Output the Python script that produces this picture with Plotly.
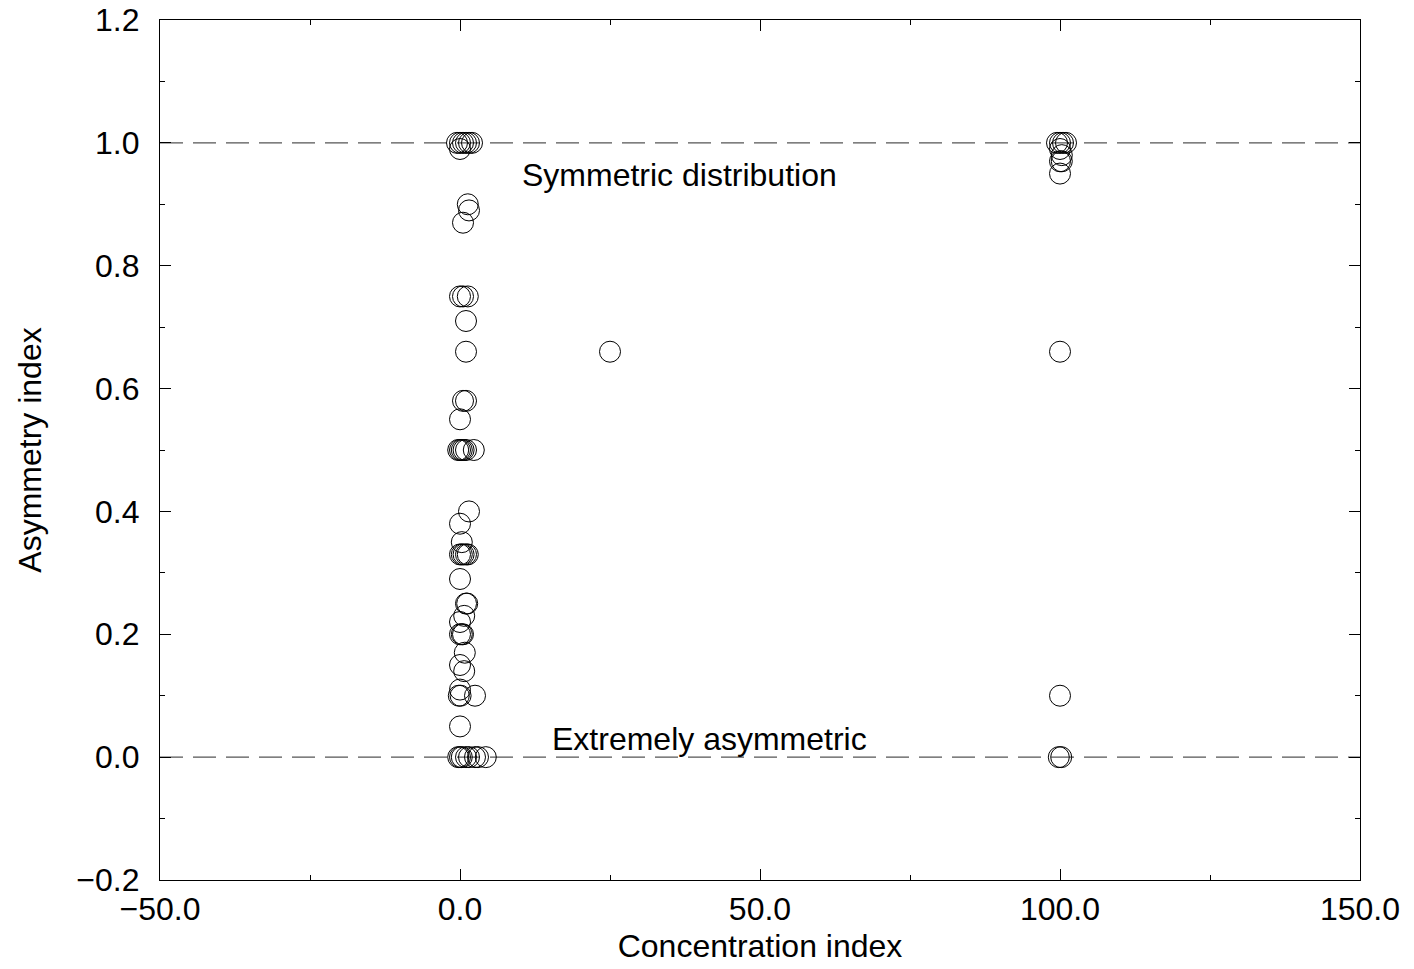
import plotly.graph_objects as go

# Concentration index (x) and asymmetry index (y)
conc_x = [
    -0.5, 0.0, 0.5, 1.0, 1.5, 2.0, 0.0,
    1.3, 1.5, 0.5,
    0.0, 0.5, 1.3,
    1.0, 1.0,
    0.5, 1.0, 0.0,
    -0.3, 0.0, 0.3, 0.6, 1.0, 2.3,
    1.5, 0.0, 0.3,
    0.0, 0.3, 0.6, 1.0, 1.3,
    0.0, 1.0, 1.2, 0.7, 0.0,
    0.0, 0.3, 0.5, 0.8, 0.0, 0.7,
    0.0, -0.2, 0.1, 2.5, 0.0,
    -0.3, 0.0, 0.3, 1.0, 1.5, 2.5, 3.0, 4.3,
    25.0,
    99.5, 100.0, 100.5, 101.0, 100.0, 100.3, 100.0, 100.3, 100.0,
    100.0, 100.0, 99.8, 100.2,
]
asym_y = [
    1.0, 1.0, 1.0, 1.0, 1.0, 1.0, 0.99,
    0.90, 0.89, 0.87,
    0.75, 0.75, 0.75,
    0.71, 0.66,
    0.58, 0.58, 0.55,
    0.50, 0.50, 0.50, 0.50, 0.50, 0.50,
    0.40, 0.38, 0.35,
    0.33, 0.33, 0.33, 0.33, 0.33,
    0.29, 0.25, 0.25, 0.23, 0.22,
    0.20, 0.20, 0.20, 0.17, 0.15, 0.14,
    0.11, 0.10, 0.10, 0.10, 0.05,
    0.0, 0.0, 0.0, 0.0, 0.0, 0.0, 0.0, 0.0,
    0.66,
    1.0, 1.0, 1.0, 1.0, 0.99, 0.98, 0.97, 0.97, 0.95,
    0.66, 0.10, 0.0, 0.0,
]

ref_levels = [0.0, 1.0]
ref_labels = ["Extremely asymmetric", "Symmetric distribution"]
label_x = [41.5, 36.6]
label_y = [0.029, 0.948]

x_range = [-50, 150]
y_range = [-0.2, 1.2]
x_ticks = [-50, 0, 50, 100, 150]
x_tick_text = ["\u221250.0", "0.0", "50.0", "100.0", "150.0"]
y_ticks = [-0.2, 0.0, 0.2, 0.4, 0.6, 0.8, 1.0, 1.2]
y_tick_text = ["\u22120.2", "0.0", "0.2", "0.4", "0.6", "0.8", "1.0", "1.2"]

FS = 32

fig = go.Figure()

for lv in ref_levels:
    fig.add_trace(go.Scatter(
        x=x_range, y=[lv, lv], mode="lines",
        line=dict(color="#555555", width=1.2, dash="23px,10px"),
        hoverinfo="skip", showlegend=False,
    ))

fig.add_trace(go.Scatter(
    x=conc_x, y=asym_y, mode="markers",
    marker=dict(symbol="circle-open", size=21, color="black",
                line=dict(width=1, color="black")),
    showlegend=False,
))

for t, lx, ly in zip(ref_labels, label_x, label_y):
    fig.add_annotation(x=lx, y=ly, text=t, showarrow=False,
                       font=dict(size=FS, color="black"))

axis_common = dict(
    showline=True, linecolor="black", linewidth=1.3, mirror="ticks",
    ticks="inside", ticklen=11, tickwidth=1, tickcolor="black",
    showgrid=False, zeroline=False, automargin=False,
    ticklabeloverflow="allow",
    tickfont=dict(size=FS, color="black"),
)

fig.update_xaxes(
    range=x_range, tickvals=x_ticks, ticktext=x_tick_text,
    minor=dict(ticks="inside", ticklen=5, dtick=25, tick0=-50, tickcolor="black"),
    title=dict(text="Concentration index", font=dict(size=FS, color="black"), standoff=9),
    **axis_common,
)
fig.update_yaxes(
    range=y_range, tickvals=y_ticks, ticktext=y_tick_text,
    ticklabelstandoff=13,
    minor=dict(ticks="inside", ticklen=5, dtick=0.1, tick0=-0.2, tickcolor="black"),
    title=dict(text="Asymmetry index", font=dict(size=FS, color="black"), standoff=25),
    **axis_common,
)

fig.update_layout(
    width=1414, height=969,
    margin=dict(l=160, r=54, t=20, b=89),
    paper_bgcolor="white", plot_bgcolor="white",
    font=dict(family="Liberation Sans, Arial, sans-serif", color="black"),
)

fig.write_html("out.html", config={"displayModeBar": False},
               post_script="document.body.style.margin='0';")
